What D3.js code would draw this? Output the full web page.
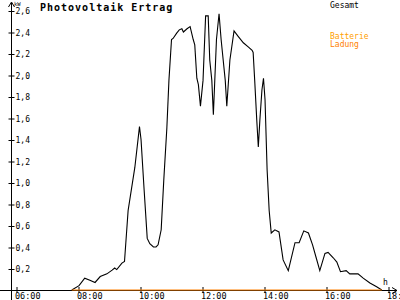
<!DOCTYPE html>
<html>
<head>
<meta charset="utf-8">
<script src="https://cdn.jsdelivr.net/npm/d3@7"></script>
<style>
  body { margin: 0; background: #fff; }
  svg { display: block; }
  text { font-family: "DejaVu Sans Mono", monospace; }
</style>
</head>
<body>
<div class="chart"></div>
<script>
// Gesamt (kW) over the day
const gesamtTimes = ['07:48','08:02','08:13','08:23','08:33','08:43','08:56','09:06','09:11','09:15','09:25','09:30','09:37','09:50','09:59','10:02','10:08','10:14','10:19','10:26','10:31','10:35','10:41','10:46','10:52','10:56','11:01','11:04','11:11','11:16','11:21','11:24','11:31','11:37','11:43','11:46','11:50','11:53','11:57','12:02','12:07','12:12','12:15','12:19','12:22','12:28','12:33','12:37','12:41','12:45','12:48','12:54','13:02','13:10','13:20','13:30','13:37','13:39','13:42','13:46','13:49','13:52','13:56','13:59','14:02','14:06','14:10','14:14','14:21','14:29','14:37','14:47','15:00','15:08','15:17','15:26','15:34','15:41','15:48','15:58','16:04','16:14','16:21','16:28','16:39','16:46','17:02','17:12','17:25','17:38','17:48'];
const gesamtValues = [0,0.04,0.11,0.09,0.07,0.125,0.15,0.185,0.205,0.19,0.25,0.265,0.74,1.14,1.52,1.40,0.93,0.48,0.43,0.40,0.40,0.42,0.56,1.02,1.51,1.95,2.33,2.34,2.39,2.42,2.43,2.40,2.43,2.45,2.33,2.28,1.97,1.91,1.71,1.95,2.55,2.55,2.14,1.95,1.63,2.33,2.57,2.33,2.14,1.95,1.71,2.14,2.41,2.36,2.30,2.26,2.23,2.21,1.95,1.58,1.33,1.58,1.86,1.97,1.77,1.12,0.74,0.53,0.56,0.54,0.28,0.18,0.44,0.44,0.55,0.53,0.42,0.30,0.18,0.34,0.35,0.30,0.26,0.17,0.18,0.15,0.15,0.11,0.065,0.03,0];

// Batterie Ladung (kW)
const ladungTimes = ['07:48','17:48'];
const ladungValues = [0,0];

const yTicks = [0.2,0.4,0.6,0.8,1.0,1.2,1.4,1.6,1.8,2.0,2.2,2.4,2.6];
const xTicks = [6,8,10,12,14,16,18];

const W = 400, H = 300;

function hours(s){
  const p = s.split(':');
  return +p[0] + (+p[1]) / 60;
}

const x = d3.scaleLinear().domain([6,18]).range([16,388]);
const y = d3.scaleLinear().domain([0,2.6]).range([290,10.5]);

const svg = d3.select('.chart').append('svg')
  .attr('width', W)
  .attr('height', H);

// axes lines with arrows
svg.append('line')
  .attr('x1',11.5).attr('x2',11.5).attr('y1',3).attr('y2',300)
  .attr('stroke','#000').attr('stroke-width',1);
svg.append('path')
  .attr('d','M8.5,7 L11.5,2 L14.5,7')
  .attr('fill','none').attr('stroke','#000');
svg.append('line')
  .attr('x1',0).attr('x2',397).attr('y1',290.5).attr('y2',290.5)
  .attr('stroke','#000');
svg.append('path')
  .attr('d','M392,287.5 L397,290.5 L392,293.5')
  .attr('fill','none').attr('stroke','#000');

// y axis ticks
let yAxis = d3.axisLeft(y)
  .tickValues(yTicks)
  .tickSize(3)
  .tickFormat(function(d){ return d3.format('.1f')(d).replace('.', ','); });

let gy = svg.append('g')
  .attr('transform','translate(11.5,0.5)')
  .call(yAxis);
gy.select('.domain').remove();
gy.selectAll('.tick line').attr('x1',-3).attr('x2',3);
gy.selectAll('.tick text')
  .attr('x',4)
  .attr('dy','0.35em')
  .style('text-anchor','start')
  .style('font-size','8px')
  .attr('fill','#000');

// x axis ticks
let xAxis = d3.axisBottom(x)
  .tickValues(xTicks)
  .tickSize(3)
  .tickFormat(function(d){ return (d < 10 ? '0' : '') + d + ':00'; });

let gx = svg.append('g')
  .attr('transform','translate(0.5,290)')
  .call(xAxis);
gx.select('.domain').remove();
gx.selectAll('.tick line').attr('y1',-3).attr('y2',3);
gx.selectAll('.tick text')
  .attr('x',-2)
  .attr('y',9)
  .attr('dy',0)
  .style('text-anchor','start')
  .style('font-size','8.5px')
  .attr('fill','#000');

// series
const line = d3.line()
  .x(function(d){ return x(hours(d[0])); })
  .y(function(d){ return y(d[1]); });

svg.append('path')
  .datum(gesamtTimes.map(function(t,i){ return [t, gesamtValues[i]]; }))
  .attr('d', line)
  .attr('fill','none')
  .attr('stroke','#000')
  .attr('stroke-width',1.1);

svg.append('path')
  .datum(ladungTimes.map(function(t,i){ return [t, ladungValues[i]]; }))
  .attr('d', line)
  .attr('fill','none')
  .attr('stroke','#ff8000')
  .attr('stroke-width',1.2);

// labels
svg.append('text')
  .attr('x',40).attr('y',11)
  .style('font-size','10px')
  .style('font-weight','bold')
  .style('letter-spacing','1px')
  .text('Photovoltaik Ertrag');

svg.append('text')
  .attr('x',14).attr('y',6)
  .style('font-size','5.5px')
  .text('kW');

svg.append('text')
  .attr('x',383).attr('y',285)
  .style('font-size','8px')
  .text('h');

svg.append('text')
  .attr('x',330).attr('y',8)
  .style('font-size','8px')
  .text('Gesamt');

svg.append('text')
  .attr('x',330).attr('y',38.5)
  .style('font-size','8px')
  .attr('fill','#ffa000')
  .text('Batterie');

svg.append('text')
  .attr('x',330).attr('y',47)
  .style('font-size','8px')
  .attr('fill','#ff8000')
  .text('Ladung');
</script>
</body>
</html>
